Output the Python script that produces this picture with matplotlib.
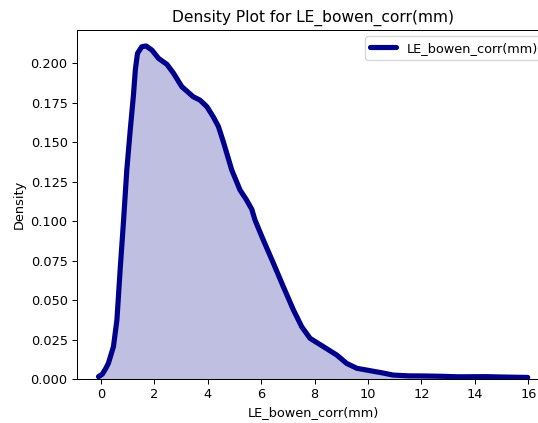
import numpy as np
import matplotlib
matplotlib.use("Agg")
import matplotlib.pyplot as plt

# values
x_vals = [-0.09, 0.05, 0.16, 0.28, 0.47, 0.6, 0.72, 0.85, 0.97, 1.1, 1.22, 1.29, 1.37,
          1.53, 1.69, 1.91, 2.16, 2.47, 2.72, 3.03, 3.46, 3.71, 3.97, 4.21, 4.4, 4.59,
          4.9, 5.21, 5.45, 5.65, 5.77, 6.08, 6.46, 6.83, 7.21, 7.52, 7.83, 8.33, 8.83,
          9.2, 9.58, 10.07, 10.5, 10.94, 11.5, 12.2, 12.8, 13.4, 14.4, 15.2, 15.98]
density = [0.0015, 0.003, 0.006, 0.0099, 0.0205, 0.0374, 0.069, 0.1007, 0.1324, 0.158,
           0.18, 0.196, 0.2063, 0.2105, 0.211, 0.2084, 0.2031, 0.1994, 0.1937, 0.1852,
           0.1788, 0.1767, 0.1725, 0.166, 0.16, 0.15, 0.1324, 0.1197, 0.1135, 0.1075,
           0.1007, 0.0881, 0.0733, 0.0585, 0.0437, 0.0331, 0.0258, 0.0205, 0.0152, 0.0099,
           0.0068, 0.0053, 0.004, 0.0025, 0.002, 0.0019, 0.0017, 0.0014, 0.0015, 0.0012,
           0.001]

col_name = "LE_bowen_corr(mm)"

dpi = 93
fig = plt.figure(figsize=(538 / dpi, 423 / dpi), dpi=dpi)
ax = fig.add_axes([0.1426, 0.104, 0.879, 0.825])
ax.plot(x_vals, density, color="darkblue", linewidth=4, label=col_name,
        solid_joinstyle="round", solid_capstyle="round")
ax.fill_between(x_vals, density, color="darkblue", alpha=0.25, linewidth=0)
ax.set_xlim(-0.905, 16.8)
ax.set_ylim(0, 0.2211)
ax.set_xticks([0, 2, 4, 6, 8, 10, 12, 14, 16])
ax.set_yticks([0.0, 0.025, 0.05, 0.075, 0.1, 0.125, 0.15, 0.175, 0.2])
ax.set_title("Density Plot for " + col_name)
ax.set_xlabel(col_name)
ax.set_ylabel("Density")
ax.legend(loc="upper right")
fig.savefig("out.png", dpi=dpi)
